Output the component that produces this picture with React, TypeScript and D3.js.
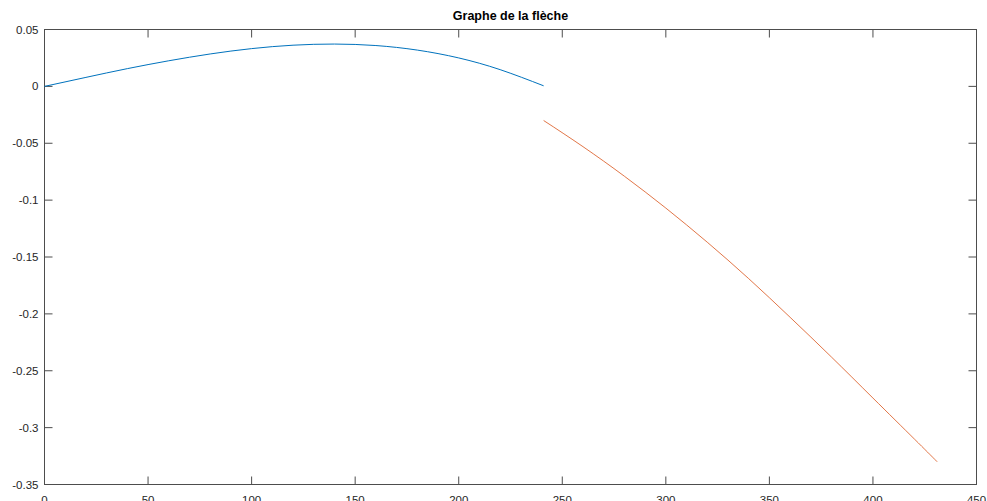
import React from 'react'
import * as d3 from 'd3'

// courbe 1 (bleue) : 0 -> 241
const blueX = [0, 20, 40, 60, 80, 100, 120, 140, 160, 180, 200, 220, 241]
const blueY = [0, 0.0079, 0.0156, 0.0225, 0.0285, 0.0332, 0.0362, 0.0372, 0.0359, 0.0319, 0.025, 0.0147, 0.0005]
// courbe 2 (orange) : 241 -> 431
const redX = [241, 260, 280, 300, 320, 340, 360, 380, 400, 420, 431]
const redY = [-0.03, -0.053, -0.079, -0.107, -0.137, -0.169, -0.203, -0.238, -0.274, -0.31, -0.33]

const xTicks = [0, 50, 100, 150, 200, 250, 300, 350, 400, 450]
const yTicks = [0.05, 0, -0.05, -0.1, -0.15, -0.2, -0.25, -0.3, -0.35]
const title = 'Graphe de la flèche'

const W = 987
const H = 501
const left = 44.5
const right = 976.5
const top = 29.5
const bottom = 484.5

export default function App() {
  const x = d3.scaleLinear().domain([0, 450]).range([left, right])
  const y = d3.scaleLinear().domain([-0.35, 0.05]).range([bottom, top])

  const line = d3
    .line<[number, number]>()
    .x((d) => x(d[0]))
    .y((d) => y(d[1]))
    .curve(d3.curveNatural)

  const blue = blueX.map((v, i) => [v, blueY[i]] as [number, number])
  const red = redX.map((v, i) => [v, redY[i]] as [number, number])
  const tl = 8
  const axisColor = '#4d4d4d'
  const font = 'Liberation Sans, Arial, sans-serif'

  return (
    <svg
      width={W}
      height={H}
      style={{ position: 'absolute', left: 0, top: 0, background: '#fff' }}
    >
      <rect x={0} y={0} width={W} height={H} fill="#fff" />
      {/* ticks */}
      {xTicks.map((t) => (
        <g key={'x' + t}>
          <line x1={x(t)} x2={x(t)} y1={bottom} y2={bottom - tl} stroke={axisColor} />
          <line x1={x(t)} x2={x(t)} y1={top} y2={top + tl} stroke={axisColor} />
          <text
            x={x(t)}
            y={bottom + 19}
            textAnchor="middle"
            fontFamily={font}
            fontSize={11.5}
            fill="#262626"
          >
            {t}
          </text>
        </g>
      ))}
      {yTicks.map((t) => (
        <g key={'y' + t}>
          <line x1={left} x2={left + tl} y1={y(t)} y2={y(t)} stroke={axisColor} />
          <line x1={right} x2={right - tl} y1={y(t)} y2={y(t)} stroke={axisColor} />
          <text
            x={left - 6}
            y={y(t) + 4}
            textAnchor="end"
            fontFamily={font}
            fontSize={11.5}
            fill="#262626"
          >
            {String(t)}
          </text>
        </g>
      ))}
      {/* cadre */}
      <rect
        x={left}
        y={top}
        width={right - left}
        height={bottom - top}
        fill="none"
        stroke={axisColor}
      />
      <path d={line(blue) || ''} fill="none" stroke="#0072BD" strokeWidth={1} />
      <path d={line(red) || ''} fill="none" stroke="#D95319" strokeWidth={0.8} />
      <text
        x={(left + right) / 2}
        y={20}
        textAnchor="middle"
        fontFamily={font}
        fontWeight="bold"
        fontSize={12.5}
        fill="#000"
      >
        {title}
      </text>
    </svg>
  )
}
